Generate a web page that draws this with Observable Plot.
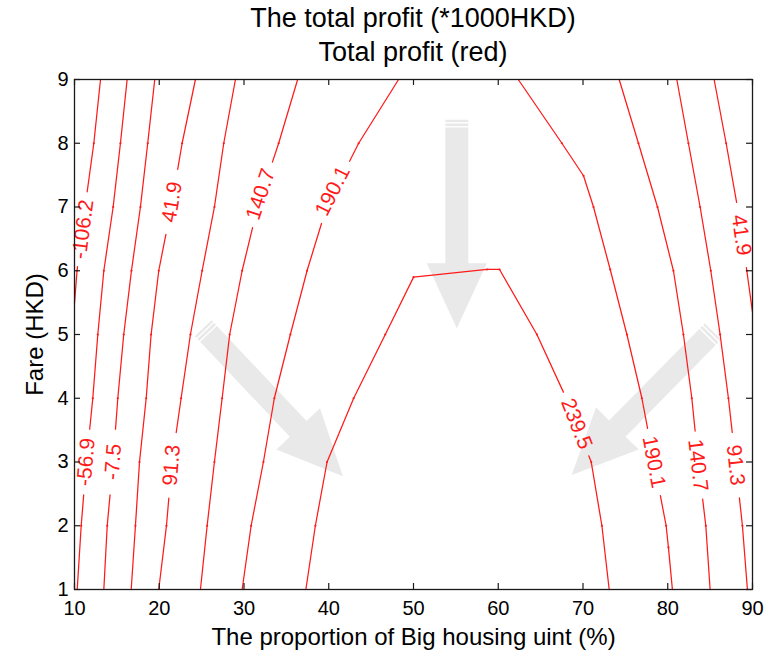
<!DOCTYPE html>
<html>
<head>
<meta charset="utf-8">
<script src="https://cdn.jsdelivr.net/npm/d3@7"></script>
<script src="https://cdn.jsdelivr.net/npm/@observablehq/plot@0.6"></script>
<style>
html, body { margin: 0; padding: 0; background: #fff; }
#wrap { width: 773px; height: 656px; position: relative; overflow: hidden; font-family: "Liberation Sans", Arial, sans-serif; background: #fff; }
#title { position: absolute; left: 74px; width: 678px; top: 2px; text-align: center; font-size: 27px; line-height: 33.5px; color: #000; z-index: 2; }
#chart { position: absolute; left: 0; top: 0; z-index: 1; }
</style>
</head>
<body>
<div id="wrap">
  <div id="title"><div>The total profit (*1000HKD)</div><div>Total profit (red)</div></div>
  <div id="chart"></div>
</div>
<script>
// ---------------- data ----------------
const xTicks = [10, 20, 30, 40, 50, 60, 70, 80, 90];
const yTicks = [1, 2, 3, 4, 5, 6, 7, 8, 9];
const xDomain = [10, 90];
const yDomain = [1, 9];

// contour polylines [proportion %, fare HKD]
const c_n106_2   = [[13.07,9],[12.28,8],[11.25,7],[10.30,6],[10.00,5.49]];
const c_n56_9    = [[16.21,9],[15.42,8],[14.56,7],[13.46,6],[12.75,5],[12.16,4],[11.40,3],[10.79,2],[10.32,1]];
const c_n7_5     = [[19.47,9],[18.64,8],[17.78,7],[16.72,6],[15.81,5],[15.11,4],[14.55,3],[13.86,2],[13.46,1]];
const c_41_9_l   = [[24.27,9],[22.70,8],[21.42,7],[19.94,6],[19.04,5],[18.46,4],[17.67,3],[17.19,2],[16.69,1]];
const c_91_3_l   = [[28.99,9],[27.61,8],[26.51,7],[25.06,6],[23.68,5],[22.58,4],[21.50,3],[20.85,2],[19.94,1]];
const c_140_7_l  = [[36.33,9],[34.09,8],[31.60,7],[29.78,6],[28.31,5],[27.42,4],[26.51,3],[25.65,2],[24.86,1]];
const c_190_1_l  = [[48.24,9],[43.53,8],[39.74,7],[37.44,6],[35.47,5],[33.58,4],[32.29,3],[30.84,2],[29.78,1]];
const c_239_5    = [[37.30,1],[38.42,2],[39.80,3],[42.94,4],[46.67,5],[50.01,5.90],[58.67,6.02],[60.15,6.02],[64.56,5],[68.02,4],[70.97,3],[72.23,2],[73.09,1]];
const c_190_1_r  = [[62.36,9],[67.51,8],[70.06,7.49],[71.24,7],[73.21,6.02],[75.18,5],[76.95,4],[78.37,3],[79.81,2],[80.08,1.66],[80.55,1]];
const c_140_7_r  = [[74.27,9],[76.54,8],[78.79,7],[80.67,6],[81.85,5],[82.84,4],[83.60,3],[84.49,2],[85.00,1]];
const c_91_3_r   = [[81.07,9],[82.44,8],[83.82,7],[85.08,6],[86.18,5],[87.16,4],[88.00,3],[88.81,2],[89.40,1]];
const c_41_9_r   = [[85.47,9],[86.89,8],[88.22,7],[89.33,6],[90.00,5.35]];

const contourLines = [c_n106_2, c_n56_9, c_n7_5, c_41_9_l, c_91_3_l, c_140_7_l, c_190_1_l,
                      c_239_5, c_190_1_r, c_140_7_r, c_91_3_r, c_41_9_r];

// contour labels
const labelText = ["-106.2", "-56.9", "-7.5", "41.9", "91.3", "140.7", "190.1", "239.5", "190.1", "140.7", "91.3", "41.9"];
const labelX    = [11.00, 11.36, 14.55, 21.50, 21.45, 31.95, 40.45, 69.25, 78.37, 83.57, 88.00, 88.68];
const labelY    = [6.65, 3.00, 3.00, 7.08, 2.95, 7.20, 7.25, 3.60, 3.00, 2.95, 2.95, 6.56];
const labelLine = [0, 1, 2, 3, 4, 5, 6, 7, 8, 9, 10, 11];

// grey arrows: tail and tip points
const arrowTail = [[25.25, 5.09], [55.17, 8.36], [85.39, 5.04]];
const arrowTip  = [[41.72, 2.77], [55.17, 5.09], [68.73, 2.79]];

// ---------------- layout ----------------
const W = 773, H = 656;
const mL = 74, mR = 21, mT = 79, mB = 67;
const plotW = W - mL - mR, plotH = H - mT - mB;
const kx = plotW / (xDomain[1] - xDomain[0]);
const ky = plotH / (yDomain[1] - yDomain[0]);
const labelFont = 21;
const red = "#ff1a1a";

const toPx = ([x, y]) => [(x - xDomain[0]) * kx, -(y - yDomain[0]) * ky];
const toData = ([X, Y]) => [xDomain[0] + X / kx, yDomain[0] - Y / ky];

const ctx = document.createElement("canvas").getContext("2d");
ctx.font = `${labelFont}px "Liberation Sans", Arial, sans-serif`;
const textW = s => ctx.measureText(s).width;

function angleAt(pts, lx, ly) {
  const P = toPx([lx, ly]);
  let best = Infinity, ang = 0;
  for (let i = 0; i < pts.length - 1; i++) {
    const A = toPx(pts[i]), B = toPx(pts[i + 1]);
    const dx = B[0] - A[0], dy = B[1] - A[1];
    let t = ((P[0] - A[0]) * dx + (P[1] - A[1]) * dy) / (dx * dx + dy * dy);
    t = Math.max(0, Math.min(1, t));
    const d = Math.hypot(A[0] + t * dx - P[0], A[1] + t * dy - P[1]);
    if (d < best) { best = d; ang = Math.atan2(dy, dx) * 180 / Math.PI; }
  }
  while (ang > 90) ang -= 180;
  while (ang <= -90) ang += 180;
  return ang;
}

const labels = labelText.map((t, i) => {
  const c = toPx([labelX[i], labelY[i]]);
  return {
    x: labelX[i], y: labelY[i], text: t, line: labelLine[i],
    angle: angleAt(contourLines[labelLine[i]], labelX[i], labelY[i]),
    cx: c[0], cy: c[1], r: Math.max(33, textW(t) / 2 + 8)
  };
});

function splitWithGaps(poly, gaps) {
  const P = poly.map(toPx);
  const res = [];
  let cur = null;
  const inGap = q => gaps.some(g => (q[0] - g.cx) ** 2 + (q[1] - g.cy) ** 2 < g.r * g.r);
  const push = q => {
    if (!cur) { cur = []; res.push(cur); }
    const last = cur[cur.length - 1];
    if (!last || Math.hypot(last[0] - q[0], last[1] - q[1]) > 1e-9) cur.push(q);
  };
  for (let i = 0; i < P.length - 1; i++) {
    const A = P[i], B = P[i + 1];
    const dx = B[0] - A[0], dy = B[1] - A[1];
    const ts = [0, 1];
    for (const g of gaps) {
      const fx = A[0] - g.cx, fy = A[1] - g.cy;
      const a = dx * dx + dy * dy, b = 2 * (fx * dx + fy * dy), c = fx * fx + fy * fy - g.r * g.r;
      const disc = b * b - 4 * a * c;
      if (disc > 0) {
        const s = Math.sqrt(disc);
        for (const t of [(-b - s) / (2 * a), (-b + s) / (2 * a)]) if (t > 0 && t < 1) ts.push(t);
      }
    }
    ts.sort((p, q) => p - q);
    for (let j = 0; j < ts.length - 1; j++) {
      const t0 = ts[j], t1 = ts[j + 1];
      if (t1 - t0 < 1e-9) continue;
      const tm = (t0 + t1) / 2;
      if (inGap([A[0] + dx * tm, A[1] + dy * tm])) { cur = null; }
      else { push([A[0] + dx * t0, A[1] + dy * t0]); push([A[0] + dx * t1, A[1] + dy * t1]); }
    }
  }
  return res.map(seg => seg.map(toData));
}

const lineRows = [];
const vertexRows = [];
contourLines.forEach((poly, ci) => {
  const gaps = labels.filter(l => l.line === ci);
  splitWithGaps(poly, gaps).forEach((seg, si) => {
    seg.forEach(([x, y]) => lineRows.push({x, y, z: ci + "-" + si}));
  });
  poly.slice(1, -1).forEach(p => {
    const q = toPx(p);
    if (!gaps.some(g => (q[0] - g.cx) ** 2 + (q[1] - g.cy) ** 2 < g.r * g.r)) vertexRows.push({x: p[0], y: p[1]});
  });
});

// custom mark for the grey arrows
function arrowsMark(index, scales, values, dimensions) {
  const sx = (scales && typeof scales.x === "function") ? scales.x : (v => mL + (v - xDomain[0]) * kx);
  const sy = (scales && typeof scales.y === "function") ? scales.y : (v => mT + (yDomain[1] - v) * ky);
  const g = d3.create("svg:g");
  for (let i = 0; i < arrowTail.length; i++) {
    const x1 = sx(arrowTail[i][0]), y1 = sy(arrowTail[i][1]);
    const x2 = sx(arrowTip[i][0]), y2 = sy(arrowTip[i][1]);
    const L = Math.hypot(x2 - x1, y2 - y1);
    const ux = (x2 - x1) / L, uy = (y2 - y1) / L, nx = -uy, ny = ux;
    const hw = 11.5, hl = 65, hh = 30;
    const bx = x2 - ux * hl, by = y2 - uy * hl;
    const pts = [
      [x1 + nx * hw, y1 + ny * hw], [bx + nx * hw, by + ny * hw], [bx + nx * hh, by + ny * hh],
      [x2, y2],
      [bx - nx * hh, by - ny * hh], [bx - nx * hw, by - ny * hw], [x1 - nx * hw, y1 - ny * hw]
    ];
    g.append("path")
      .attr("d", "M" + pts.map(p => p[0].toFixed(2) + "," + p[1].toFixed(2)).join("L") + "Z")
      .attr("fill", "#e9e9e9");
    for (const d of [3, 7]) {
      const cx = x1 + ux * d, cy = y1 + uy * d;
      g.append("line")
        .attr("x1", cx + nx * (hw + 1)).attr("y1", cy + ny * (hw + 1))
        .attr("x2", cx - nx * (hw + 1)).attr("y2", cy - ny * (hw + 1))
        .attr("stroke", "#fff").attr("stroke-width", 1.4);
    }
  }
  return g.node();
}

const chart = Plot.plot({
  width: W,
  height: H,
  marginLeft: mL,
  marginRight: mR,
  marginTop: mT,
  marginBottom: mB,
  style: {fontFamily: '"Liberation Sans", Arial, sans-serif', fontSize: "20px", color: "#000", background: "transparent", overflow: "visible"},
  x: {domain: xDomain},
  y: {domain: yDomain},
  marks: [
    arrowsMark,
    Plot.line(lineRows, {x: "x", y: "y", z: "z", stroke: red, strokeWidth: 1.25, curve: "linear"}),
    Plot.dot(vertexRows, {x: "x", y: "y", r: 1.1, fill: red, stroke: null}),
    Plot.text(labels, {x: "x", y: "y", text: "text", rotate: d => d.angle, fill: red, fontSize: labelFont}),
    Plot.frame({stroke: "#1a1a1a", strokeWidth: 1.3}),
    Plot.ruleX(xTicks, {x: d => d, insetTop: plotH - 6, stroke: "#1a1a1a", strokeWidth: 1.2}),
    Plot.ruleX(xTicks, {x: d => d, insetBottom: plotH - 6, stroke: "#1a1a1a", strokeWidth: 1.2}),
    Plot.ruleY(yTicks, {y: d => d, insetRight: plotW - 6, stroke: "#1a1a1a", strokeWidth: 1.2}),
    Plot.ruleY(yTicks, {y: d => d, insetLeft: plotW - 6, stroke: "#1a1a1a", strokeWidth: 1.2}),
    Plot.axisX({ticks: xTicks, tickSize: 0, tickPadding: 11, label: null, fontSize: 20, tickFormat: d => String(d)}),
    Plot.axisY({ticks: yTicks, tickSize: 0, tickPadding: 6, label: null, fontSize: 20, tickFormat: d => String(d)}),
    Plot.text(["The proportion of Big housing uint (%)"], {text: d => d, frameAnchor: "bottom", lineAnchor: "middle", textAnchor: "middle", dy: 48, fontSize: 24, fill: "#000"}),
    Plot.text(["Fare (HKD)"], {text: d => d, frameAnchor: "left", lineAnchor: "middle", textAnchor: "middle", dx: -39, rotate: -90, fontSize: 24, fill: "#000"})
  ]
});
document.getElementById("chart").appendChild(chart);
</script>
</body>
</html>
